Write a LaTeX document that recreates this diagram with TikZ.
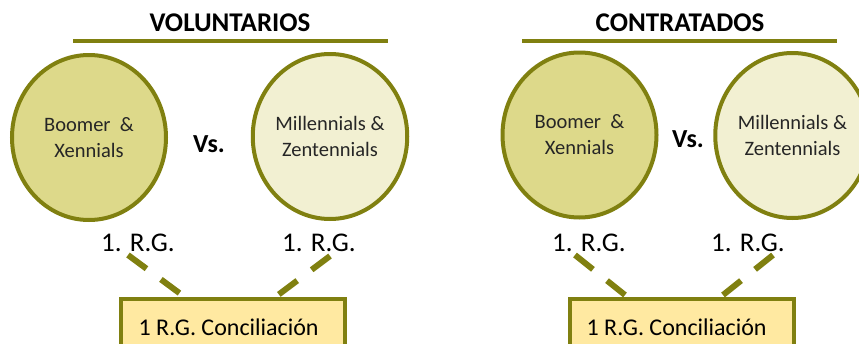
\documentclass[tikz,border=0pt]{standalone}
\usepackage{fontspec}
\setmainfont{Carlito}
\usetikzlibrary{positioning, shapes.geometric}
\definecolor{olivo}{RGB}{128,128,16}
\definecolor{genviejo}{RGB}{221,217,138}
\definecolor{genjoven}{RGB}{242,240,210}
\definecolor{cajafondo}{RGB}{255,233,161}
\begin{document}
\begin{tikzpicture}[x=1pt, y=-1pt,
    titulo/.style={font=\fontsize{27}{32}\selectfont\bfseries, anchor=base},
    gen/.style={ellipse, draw=olivo, line width=4pt, minimum width=154pt, minimum height=165pt,
        inner sep=0pt, align=center, text=black!85, font=\fontsize{20.5}{26}\selectfont},
    versus/.style={font=\fontsize{26}{30}\selectfont\bfseries, anchor=base},
    rg/.style={font=\fontsize{27}{32}\selectfont, anchor=base},
    caja/.style={draw=olivo, fill=cajafondo, line width=4pt, minimum width=224pt, minimum height=60pt,
        anchor=north west, inner sep=0pt},
    enlace/.style={draw=olivo, line width=6pt, dash pattern=on 23pt off 18pt}]
    \useasboundingbox (0,0) rectangle (859,343);

    %Voluntarios
    \node[titulo] (tv) at (230,31) {VOLUNTARIOS};
    \draw[olivo, line width=3.5pt] (73,41) -- (388,41);
    \node[gen, fill=genviejo] (bv) at (89,137.5) {Boomer\ \ \&\\Xennials};
    \node[gen, fill=genjoven] (mv) at (330,136.5) {Millennials \&\\Zentennials};
    \node[versus] (vsv) at (209,152) {Vs.};
    \node[rg] (rgbv) at (138,251) {1. R.G.};
    \node[rg] (rgmv) at (319,251) {1. R.G.};
    \node[caja] (cv) at (119,297) {};
    \node[anchor=base west, font=\fontsize{24}{28}\selectfont] (tcv) at (135,335) {1 R.G. Conciliación};
    %dashed links
    \coordinate (ebv) at (128,255);
    \coordinate (emv) at (330,256);
    \draw[enlace] (ebv) -- (182,295);
    \draw[enlace] (emv) -- (278,295);

    %Contratados
    \node[titulo] (tc) at (680,31) {CONTRATADOS};
    \draw[olivo, line width=3.5pt] (522,41) -- (837,41);
    \node[gen, fill=genviejo] (bc) at (579.5,135) {Boomer\ \ \&\\Xennials};
    \node[gen, fill=genjoven] (mc) at (792.5,135.5) {Millennials \&\\Zentennials};
    \node[versus] (vsc) at (688,147) {Vs.};
    \node[rg] (rgbc) at (589,251) {1. R.G.};
    \node[rg] (rgmc) at (748,251) {1. R.G.};
    \node[caja] (cc) at (568,297) {};
    \node[anchor=base west, font=\fontsize{24}{28}\selectfont] (tcc) at (583,335) {1 R.G. Conciliación};
    %dashed links
    \coordinate (ebc) at (575,255);
    \coordinate (emc) at (773,255);
    \draw[enlace] (ebc) -- (625,295);
    \draw[enlace] (emc) -- (723,295);
\end{tikzpicture}
\end{document}
